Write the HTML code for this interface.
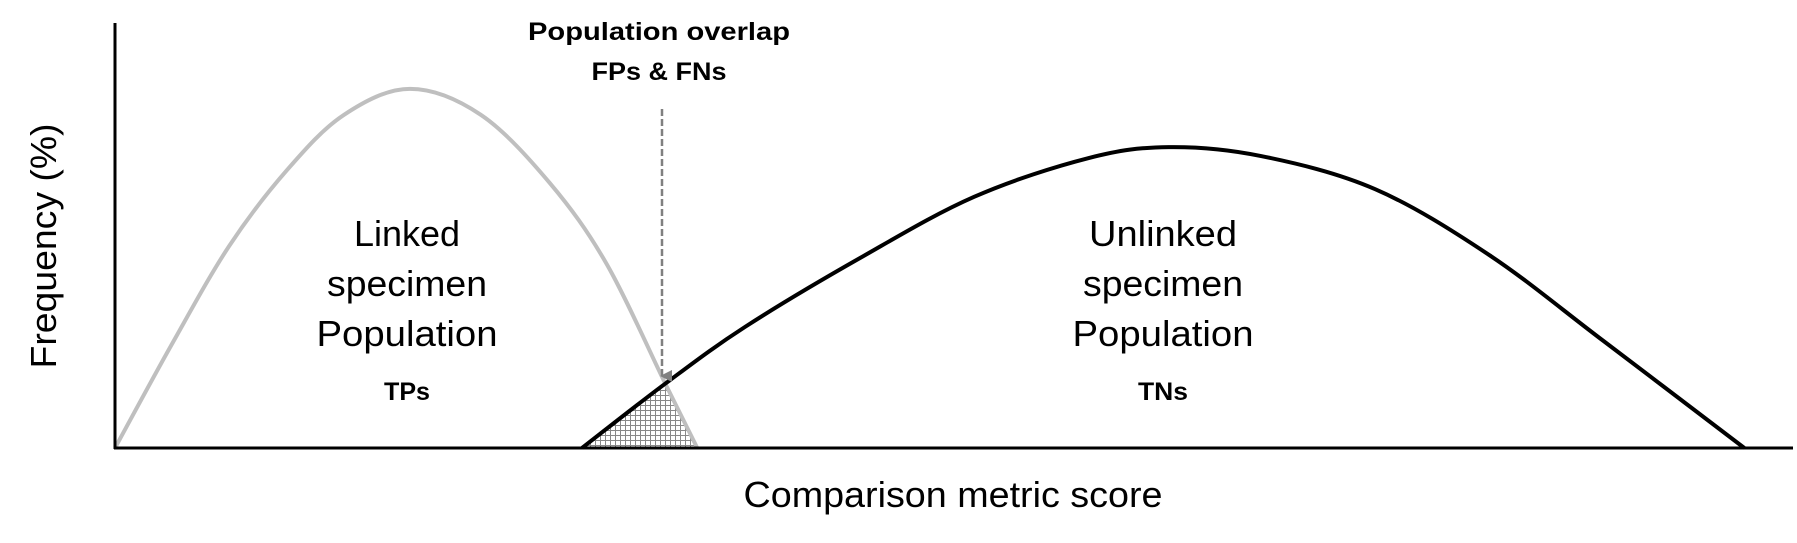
<!DOCTYPE html>
<html><head><meta charset="utf-8"><style>
html,body{margin:0;padding:0;background:#fff;}
svg{display:block;}
text{font-family:"Liberation Sans",sans-serif;}
</style></head><body>
<svg id="chart" width="1797" height="543" viewBox="0 0 1797 543">
<defs>
<pattern id="grid" width="5" height="5" patternUnits="userSpaceOnUse">
<rect width="5" height="5" fill="#fff"/>
<path d="M0 0.5H5M0.5 0V5" stroke="#888" stroke-width="1"/>
</pattern>
<clipPath id="grayClip"><path id="grayClipPath" d=""/></clipPath>
<marker id="arrowHead" markerWidth="12" markerHeight="12" refX="6" refY="10" orient="auto" markerUnits="userSpaceOnUse"><path d="M0 0L12 0L6 12Z" fill="#808080"/></marker>
</defs>
<g id="marks"></g>
<line x1="115" y1="23" x2="115" y2="449" stroke="#000" stroke-width="3"/>
<line x1="114" y1="448" x2="1793" y2="448" stroke="#000" stroke-width="3"/>
<line x1="662" y1="109" x2="662" y2="376" stroke="#808080" stroke-width="2.5" stroke-dasharray="7,3" marker-end="url(#arrowHead)"/>
<text x="659" y="40" text-anchor="middle" font-weight="bold" font-size="25" textLength="262" lengthAdjust="spacingAndGlyphs">Population overlap</text>
<text x="659" y="80" text-anchor="middle" font-weight="bold" font-size="25" textLength="135" lengthAdjust="spacingAndGlyphs">FPs &amp; FNs</text>
<g font-size="36" text-anchor="middle">
<text x="407" y="246" textLength="106" lengthAdjust="spacingAndGlyphs">Linked</text><text x="407" y="296" textLength="160" lengthAdjust="spacingAndGlyphs">specimen</text><text x="407" y="346" textLength="181" lengthAdjust="spacingAndGlyphs">Population</text>
</g>
<text x="407" y="400" text-anchor="middle" font-weight="bold" font-size="25" textLength="46" lengthAdjust="spacingAndGlyphs">TPs</text>
<g font-size="36" text-anchor="middle">
<text x="1163" y="246" textLength="148" lengthAdjust="spacingAndGlyphs">Unlinked</text><text x="1163" y="296" textLength="160" lengthAdjust="spacingAndGlyphs">specimen</text><text x="1163" y="346" textLength="181" lengthAdjust="spacingAndGlyphs">Population</text>
</g>
<text x="1163" y="400" text-anchor="middle" font-weight="bold" font-size="25" textLength="50" lengthAdjust="spacingAndGlyphs">TNs</text>
<text x="953" y="507" text-anchor="middle" font-size="36" textLength="419" lengthAdjust="spacingAndGlyphs">Comparison metric score</text>
<text transform="translate(56,246) rotate(-90)" text-anchor="middle" font-size="36" textLength="245" lengthAdjust="spacingAndGlyphs">Frequency (%)</text>
</svg>
<script>
const linkedX = [0, 3.4, 6.8, 10.25, 13.65, 17.58, 21.8, 25.9, 29.3, 32.8, 34.7];
const linkedY = [0, 24.5, 47.5, 65.4, 78.4, 84.5, 78.4, 62.4, 43.3, 15.1, 0];
const unlinkedX = [27.83, 32.78, 37.55, 44.4, 51.2, 58.0, 62.8, 68.3, 75.1, 81.9, 88.7, 97.1];
const unlinkedY = [0, 15.1, 28.5, 44.7, 59.1, 68.2, 70.8, 68.7, 60.9, 45.4, 25.2, 0];

const sx = v => 115 + v * 16.78;
const sy = v => 448 - v * 4.25;
function smoothPath(xs, ys) {
  const p = xs.map((x, i) => [sx(x), sy(ys[i])]);
  let d = 'M' + p[0][0] + ' ' + p[0][1];
  for (let i = 0; i < p.length - 1; i++) {
    const p0 = p[i - 1] || p[i], p1 = p[i], p2 = p[i + 1], p3 = p[i + 2] || p2;
    const c1 = [p1[0] + (p2[0] - p0[0]) / 6, p1[1] + (p2[1] - p0[1]) / 6];
    const c2 = [p2[0] - (p3[0] - p1[0]) / 6, p2[1] - (p3[1] - p1[1]) / 6];
    d += 'C' + c1[0] + ' ' + c1[1] + ' ' + c2[0] + ' ' + c2[1] + ' ' + p2[0] + ' ' + p2[1];
  }
  return d;
}
const NS = 'http://www.w3.org/2000/svg';
const g = document.getElementById('marks');
const gd = smoothPath(linkedX, linkedY);
const bd = smoothPath(unlinkedX, unlinkedY);
document.getElementById('grayClipPath').setAttribute('d', gd + 'Z');

const overlap = document.createElementNS(NS, 'path');
overlap.setAttribute('d', bd + 'Z');
overlap.setAttribute('fill', 'url(#grid)');
overlap.setAttribute('clip-path', 'url(#grayClip)');


g.appendChild(overlap);

const gl = document.createElementNS(NS, 'path');
gl.setAttribute('d', gd);
gl.setAttribute('fill', 'none');
gl.setAttribute('stroke', '#bfbfbf');
gl.setAttribute('stroke-width', '4');


g.appendChild(gl);

const bl = document.createElementNS(NS, 'path');
bl.setAttribute('d', bd);
bl.setAttribute('fill', 'none');
bl.setAttribute('stroke', '#000');
bl.setAttribute('stroke-width', '4');


g.appendChild(bl);
</script>
</body></html>
